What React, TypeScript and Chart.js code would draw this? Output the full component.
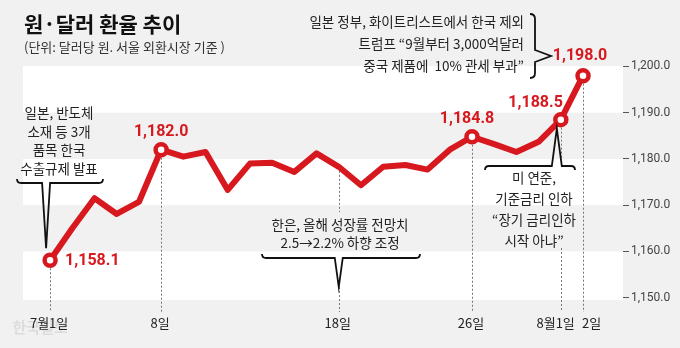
import React, { useEffect, useRef } from 'react';
import { Chart, registerables } from 'chart.js';
Chart.register(...registerables);

// ---- data ----
const dates = [
  '7/1', '7/2', '7/3', '7/4', '7/5', '7/8', '7/9', '7/10', '7/11', '7/12',
  '7/15', '7/16', '7/17', '7/18', '7/19', '7/22', '7/23', '7/24', '7/25', '7/26',
  '7/29', '7/30', '7/31', '8/1', '8/2',
];
const rates = [
  1158.1, 1165.0, 1171.5, 1168.1, 1170.7, 1182.0, 1180.5, 1181.5, 1173.3, 1179.0,
  1179.2, 1177.2, 1181.2, 1178.3, 1174.3, 1178.3, 1178.7, 1177.7, 1182.0, 1184.8,
  1183.2, 1181.5, 1183.7, 1188.5, 1198.0,
];
const yTicks = [1150, 1160, 1170, 1180, 1190, 1200];
const yTickLabels = ['1,150.0', '1,160.0', '1,170.0', '1,180.0', '1,190.0', '1,200.0'];
const bandRanges = [[1180, 1190], [1160, 1170]];
const markedIdx = [0, 5, 19, 23, 24];
const valueLabels = ['1,158.1', '1,182.0', '1,184.8', '1,188.5', '1,198.0'];
const xLabelIdx = [0, 5, 13, 19, 23, 24];
const xLabels = ['7월1일', '8일', '18일', '26일', '8월1일', '2일'];
const title = '원·달러 환율 추이';
const subtitle = '(단위: 달러당 원. 서울 외환시장 기준 )';
const noteJapan = ['일본, 반도체', '소재 등 3개', '품목 한국', '수출규제 발표'];
const noteBok = ['한은, 올해 성장률 전망치', '2.5→2.2% 하향 조정'];
const noteFed = ['미 연준,', '기준금리 인하', '“장기 금리인하', '시작 아냐”'];
const noteTrade = ['일본 정부, 화이트리스트에서 한국 제외', '트럼프 “9월부터 3,000억달러', '중국 제품에  10% 관세 부과”'];
const watermark = '한국일보';

// ---- style ----
const RED = '#d7191f';
const BG = '#f1f1f1';
const KR = '"Noto Sans CJK KR", "Noto Sans", sans-serif';
const NUM = 'Roboto, "Noto Sans", sans-serif';

function txt(ctx: any, s: string, x: number, y: number, font: string, color: string, align: string = 'center') {
  ctx.font = font;
  ctx.fillStyle = color;
  ctx.textAlign = align;
  ctx.textBaseline = 'middle';
  ctx.fillText(s, x, y);
}

function hBrace(ctx: any, x1: number, x2: number, y: number, cx: number, tipY: number, hw: number) {
  const s = tipY > y ? 1 : -1;
  const h = 4;
  ctx.beginPath();
  ctx.moveTo(x1, y - h * s);
  ctx.quadraticCurveTo(x1, y, x1 + h, y);
  ctx.lineTo(cx - hw, y);
  ctx.lineTo(cx, tipY);
  ctx.lineTo(cx + hw, y);
  ctx.lineTo(x2 - h, y);
  ctx.quadraticCurveTo(x2, y, x2, y - h * s);
  ctx.stroke();
}

const deco = {
  id: 'deco',
  beforeDraw(chart: any) {
    const { ctx, chartArea: a, scales } = chart;
    const y = scales.y;
    ctx.save();
    ctx.fillStyle = BG;
    ctx.fillRect(0, 0, chart.width, chart.height);
    ctx.fillStyle = '#ffffff';
    ctx.fillRect(a.left, a.top, a.right - a.left, a.bottom - a.top);
    ctx.fillStyle = BG;
    bandRanges.forEach(([lo, hi]) => {
      const t = y.getPixelForValue(hi);
      const b = y.getPixelForValue(lo);
      ctx.fillRect(a.left, t, a.right - a.left, b - t);
    });
    ctx.restore();
  },
  beforeDatasetsDraw(chart: any) {
    const { ctx, scales } = chart;
    const px = (i: number) => scales.x.getPixelForValue(i);
    const py = (i: number) => scales.y.getPixelForValue(rates[i]);
    ctx.save();
    txt(ctx, watermark, 40, 327, `bold 15px ${KR}`, '#dcdcdc', 'center');
    ctx.strokeStyle = '#777';
    ctx.lineWidth = 1;
    ctx.setLineDash([2, 2]);
    const bottom = 312;
    xLabelIdx.forEach((i) => {
      const x = Math.round(px(i)) + 0.5;
      const top = py(i) + (markedIdx.includes(i) ? 8 : 4);
      let segs: number[][] = [[top, bottom]];
      if (i === 13) segs = [[top, 212], [287, bottom]];
      if (i === 23) segs = [[top, 166], [248, bottom]];
      segs.forEach(([a, b]) => {
        ctx.beginPath();
        ctx.moveTo(x, a);
        ctx.lineTo(x, b);
        ctx.stroke();
      });
    });
    ctx.restore();
  },
  afterDatasetsDraw(chart: any) {
    const { ctx, scales } = chart;
    const px = (i: number) => scales.x.getPixelForValue(i);
    const py = (i: number) => scales.y.getPixelForValue(rates[i]);
    ctx.save();

    // title
    txt(ctx, title, 24, 24, `bold 21px ${KR}`, '#111', 'left');
    txt(ctx, subtitle, 24, 47.5, `13px ${KR}`, '#333', 'left');

    // value labels
    const vf = `bold 16px ${NUM}`;
    markedIdx.forEach((i, k) => {
      const x = px(i);
      const y = py(i);
      if (k === 0) txt(ctx, valueLabels[k], x + 15, y + 1, vf, RED, 'left');
      else if (k === 1) txt(ctx, valueLabels[k], x, y - 18, vf, RED, 'center');
      else if (k === 2) txt(ctx, valueLabels[k], x - 5, y - 18, vf, RED, 'center');
      else if (k === 3) txt(ctx, valueLabels[k], x + 2, y - 17, vf, RED, 'right');
      else txt(ctx, valueLabels[k], x - 3, y - 20, vf, RED, 'center');
    });

    // x labels
    const xf = `13px ${KR}`;
    xLabelIdx.forEach((i, k) => {
      const x = px(i);
      if (k === 4) txt(ctx, xLabels[k], x + 14, 323, xf, '#222', 'right');
      else if (k === 5) txt(ctx, xLabels[k], x - 1, 323, xf, '#222', 'left');
      else txt(ctx, xLabels[k], x - 1, 323, xf, '#222', 'center');
    });

    // notes
    const nf = `13.5px ${KR}`;
    noteJapan.forEach((s, k) => txt(ctx, s, 59, 113 + k * 18.5, nf, '#222', 'center'));
    noteBok.forEach((s, k) => txt(ctx, s, 340, 225 + k * 18, nf, '#222', 'center'));
    noteFed.forEach((s, k) => txt(ctx, s, 534, 178 + k * 21, nf, '#222', 'center'));
    noteTrade.forEach((s, k) => txt(ctx, s, 524, 22 + k * 22, nf, '#222', 'right'));

    // braces
    ctx.strokeStyle = '#111';
    ctx.lineWidth = 1.8;
    ctx.lineJoin = 'miter';
    hBrace(ctx, 17, 103, 183, px(0) - 4, py(0) - 12, 4);
    hBrace(ctx, 262, 420, 258, px(13), 287, 4);
    hBrace(ctx, 485, 575, 166, px(23) - 4, py(23) + 9, 5);
    // vertical brace for the top-right note
    ctx.beginPath();
    ctx.moveTo(530, 14);
    ctx.quadraticCurveTo(535, 14, 535, 19);
    ctx.lineTo(535, 50);
    ctx.lineTo(551, 56);
    ctx.lineTo(535, 62);
    ctx.lineTo(535, 73);
    ctx.quadraticCurveTo(535, 78, 530, 78);
    ctx.stroke();

    ctx.restore();
  },
};

export default function App() {
  const ref = useRef<HTMLCanvasElement>(null);
  useEffect(() => {
    document.body.style.margin = '0';
    const chart = new Chart(ref.current as HTMLCanvasElement, {
      type: 'line',
      data: {
        labels: dates,
        datasets: [
          {
            data: rates.map((v, i) => ({ x: i, y: v })),
            borderColor: RED,
            borderWidth: 6,
            borderJoinStyle: 'round',
            borderCapStyle: 'round',
            tension: 0,
            pointRadius: rates.map((_, i) => (markedIdx.includes(i) ? 5.5 : 0)),
            pointHoverRadius: rates.map((_, i) => (markedIdx.includes(i) ? 5.5 : 0)),
            pointBackgroundColor: '#ffffff',
            pointBorderColor: RED,
            pointBorderWidth: 4.5,
            clip: false,
          } as any,
        ],
      },
      options: {
        responsive: false,
        animation: false,
        events: [],
        layout: { padding: { left: 23, right: 0, top: 66, bottom: 48 } },
        plugins: { legend: { display: false }, tooltip: { enabled: false } },
        scales: {
          x: { type: 'linear', display: false, min: -1.22, max: 25.8 },
          y: {
            position: 'right',
            min: 1149.5,
            max: 1200.1,
            afterBuildTicks: (s: any) => {
              s.ticks = yTicks.map((v) => ({ value: v }));
            },
            afterFit: (s: any) => {
              s.width = 57;
            },
            ticks: {
              callback: (v: any) => {
                const k = yTicks.indexOf(Number(v));
                return k >= 0 ? yTickLabels[k] : '';
              },
              font: { family: NUM, size: 12 },
              color: '#444',
              padding: 2,
            },
            grid: { drawOnChartArea: false, drawTicks: true, tickLength: 6, color: '#555', tickColor: '#555' },
            border: { display: false },
          },
        },
      } as any,
      plugins: [deco],
    });
    return () => chart.destroy();
  }, []);
  return (
    <div style={{ position: 'fixed', left: 0, top: 0, width: 680, height: 348 }}>
      <canvas ref={ref} width={680} height={348} style={{ display: 'block' }} />
    </div>
  );
}
